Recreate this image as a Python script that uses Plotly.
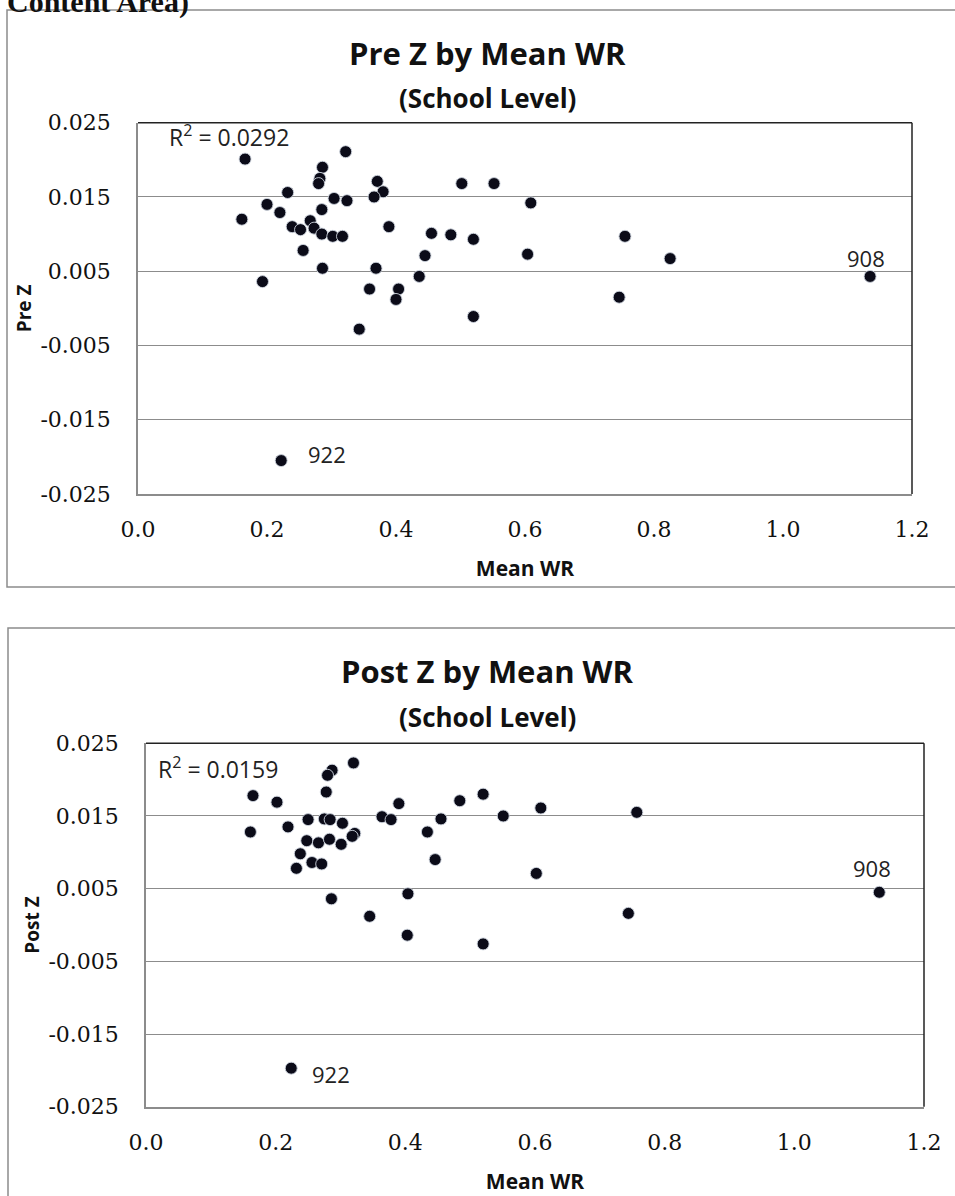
import plotly.graph_objects as go

# ---------------- data ----------------
pre_x = [0.166, 0.322, 0.286, 0.282, 0.280, 0.371, 0.380, 0.366, 0.502, 0.232,
         0.304, 0.324, 0.200, 0.220, 0.285, 0.161, 0.239, 0.252, 0.267, 0.273,
         0.285, 0.302, 0.317, 0.389, 0.455, 0.485, 0.520, 0.256, 0.445, 0.286,
         0.369, 0.436, 0.193, 0.359, 0.404, 0.400, 0.520, 0.343, 0.552, 0.609,
         0.604, 0.755, 0.825, 0.746, 1.135, 0.222]
pre_y = [0.0201, 0.0211, 0.0190, 0.0175, 0.0168, 0.0171, 0.0157, 0.0150, 0.0168, 0.0156,
         0.0148, 0.0145, 0.0140, 0.0129, 0.0133, 0.0120, 0.0110, 0.0106, 0.0118, 0.0108,
         0.0100, 0.0097, 0.0097, 0.0110, 0.0101, 0.0099, 0.0093, 0.0078, 0.0071, 0.0054,
         0.0054, 0.0043, 0.0036, 0.0026, 0.0026, 0.0012, -0.0011, -0.0028, 0.0168, 0.0142,
         0.0073, 0.0097, 0.0067, 0.0015, 0.0043, -0.0205]

post_x = [0.320, 0.287, 0.280, 0.278, 0.165, 0.202, 0.390, 0.484, 0.520, 0.551,
          0.250, 0.275, 0.284, 0.303, 0.364, 0.378, 0.455, 0.161, 0.219, 0.434,
          0.322, 0.318, 0.248, 0.266, 0.283, 0.301, 0.238, 0.256, 0.271, 0.232,
          0.446, 0.286, 0.404, 0.345, 0.403, 0.520, 0.609, 0.757, 0.602, 0.744,
          1.131, 0.224]
post_y = [0.0223, 0.0213, 0.0206, 0.0183, 0.0178, 0.0169, 0.0167, 0.0171, 0.0180, 0.0150,
          0.0145, 0.0146, 0.0145, 0.0140, 0.0149, 0.0145, 0.0146, 0.0128, 0.0135, 0.0128,
          0.0126, 0.0122, 0.0116, 0.0113, 0.0118, 0.0111, 0.0098, 0.0086, 0.0084, 0.0078,
          0.0090, 0.0036, 0.0043, 0.0012, -0.0014, -0.0026, 0.0161, 0.0155, 0.0071, 0.0016,
          0.0045, -0.0197]

pre_r2 = "0.0292"
post_r2 = "0.0159"
high_wr_school = "908"
low_z_school = "922"

x_tick_vals = [0.0, 0.2, 0.4, 0.6, 0.8, 1.0, 1.2]
x_tick_text = ["0.0", "0.2", "0.4", "0.6", "0.8", "1.0", "1.2"]
y_tick_vals = [-0.025, -0.015, -0.005, 0.005, 0.015, 0.025]
y_tick_text = ["-0.025", "-0.015", "-0.005", "0.005", "0.015", "0.025"]

# ---------------- figure ----------------
W, H = 955, 1196
def px(v): return v / W
def py(v): return 1 - v / H

DOT = "#0b0b18"
GRID = "#8c8c8c"
SANS = "Open Sans"
SERIF = "DejaVu Serif"

fig = go.Figure()
marker = dict(size=12, color=DOT, line=dict(width=1, color="rgba(205,212,222,0.9)"))
fig.add_trace(go.Scatter(x=pre_x, y=pre_y, mode="markers", marker=marker,
                         xaxis="x", yaxis="y", showlegend=False, cliponaxis=False,
                         hoverinfo="x+y"))
fig.add_trace(go.Scatter(x=post_x, y=post_y, mode="markers", marker=marker,
                         xaxis="x2", yaxis="y2", showlegend=False, cliponaxis=False,
                         hoverinfo="x+y"))

def xax(domain, anchor, title):
    return dict(domain=domain, anchor=anchor, range=[0, 1.2], automargin=False,
                tickvals=x_tick_vals, ticktext=x_tick_text, ticks="",
                ticklabelstandoff=15,
                tickfont=dict(family=SERIF, size=22, color="#111"),
                showgrid=False, zeroline=False,
                showline=True, linecolor=GRID, linewidth=1.5,
                title=dict(text="<b>" + title + "</b>", standoff=20,
                           font=dict(family=SANS, size=21, color="#111")))

def yax(domain, anchor, title):
    return dict(domain=domain, anchor=anchor, range=[-0.025, 0.025], automargin=False,
                tickvals=y_tick_vals, ticktext=y_tick_text, ticks="",
                ticklabelstandoff=21,
                tickfont=dict(family=SERIF, size=22, color="#111"),
                showgrid=True, gridcolor=GRID, gridwidth=1.3, zeroline=False,
                showline=True, linecolor=GRID, linewidth=1.5,
                title=dict(text="<b>" + title + "</b>", standoff=4,
                           font=dict(family=SANS, size=19, color="#111")))

fig.update_layout(
    template="none",
    width=W, height=H, autosize=False,
    margin=dict(l=0, r=0, t=0, b=0, pad=0, autoexpand=False),
    paper_bgcolor="white", plot_bgcolor="white", showlegend=False,
    xaxis=xax([px(138), px(912)], "y", "Mean WR"),
    yaxis=yax([py(494), py(122.7)], "x", "Pre Z"),
    xaxis2=xax([px(146), px(924)], "y2", "Mean WR"),
    yaxis2=yax([py(1106.7), py(743.3)], "x2", "Post Z"),
)

shapes = []
# outer chart-area borders
shapes.append(dict(type="rect", xref="paper", yref="paper", x0=px(7), x1=1.05,
                   y0=py(587), y1=py(10), line=dict(color=GRID, width=1.5)))
shapes.append(dict(type="rect", xref="paper", yref="paper", x0=px(8), x1=1.05,
                   y0=-0.05, y1=py(628), line=dict(color=GRID, width=1.5)))
# dark top / right frame edges of the plot areas
for xr, yr in (("x", "y"), ("x2", "y2")):
    shapes.append(dict(type="line", xref=xr + " domain", yref=yr + " domain",
                       x0=0, x1=1, y0=1, y1=1, line=dict(color="#222", width=1.5)))
    shapes.append(dict(type="line", xref=xr + " domain", yref=yr + " domain",
                       x0=1, x1=1, y0=0, y1=1, line=dict(color="#222", width=1.5)))
fig.update_layout(shapes=shapes)

ann = []
# cut-off page text at the very top
ann.append(dict(text="<b>Content Area)</b>", xref="paper", yref="paper",
                x=px(5), y=py(21), xanchor="left", yanchor="bottom", showarrow=False,
                font=dict(family="Liberation Serif", size=30, color="#111")))
# chart titles
for title, ty, sy in (("Pre Z by Mean WR", 53, 98), ("Post Z by Mean WR", 671, 717)):
    ann.append(dict(text="<b>" + title + "</b>", xref="paper", yref="paper",
                    x=px(487), y=py(ty), xanchor="center", yanchor="middle",
                    showarrow=False, font=dict(family=SANS, size=31, color="#111")))
    ann.append(dict(text="<b>(School Level)</b>", xref="paper", yref="paper",
                    x=px(487), y=py(sy), xanchor="center", yanchor="middle",
                    showarrow=False, font=dict(family=SANS, size=26, color="#111")))
# R^2 labels
for r2, lx, ly in ((pre_r2, 167, 136), (post_r2, 156, 768)):
    ann.append(dict(text="R<sup>2</sup> = " + r2, xref="paper", yref="paper",
                    x=px(lx), y=py(ly), xanchor="left", yanchor="middle",
                    showarrow=False, font=dict(family=SANS, size=23, color="#222")))
# outlier school labels
for xs, ys, xr, yr, hs, ls in ((pre_x, pre_y, "x", "y", (-4, 18), (46, 7)),
                               (post_x, post_y, "x2", "y2", (-7, 24), (40, -6))):
    i_hi = xs.index(max(xs))
    i_lo = ys.index(min(ys))
    ann.append(dict(text=high_wr_school, x=xs[i_hi], y=ys[i_hi], xref=xr, yref=yr,
                    xshift=hs[0], yshift=hs[1], showarrow=False,
                    font=dict(family=SANS, size=22, color="#222")))
    ann.append(dict(text=low_z_school, x=xs[i_lo], y=ys[i_lo], xref=xr, yref=yr,
                    xshift=ls[0], yshift=ls[1], showarrow=False,
                    font=dict(family=SANS, size=22, color="#222")))
fig.update_layout(annotations=ann)

fig.write_html("out.html")
